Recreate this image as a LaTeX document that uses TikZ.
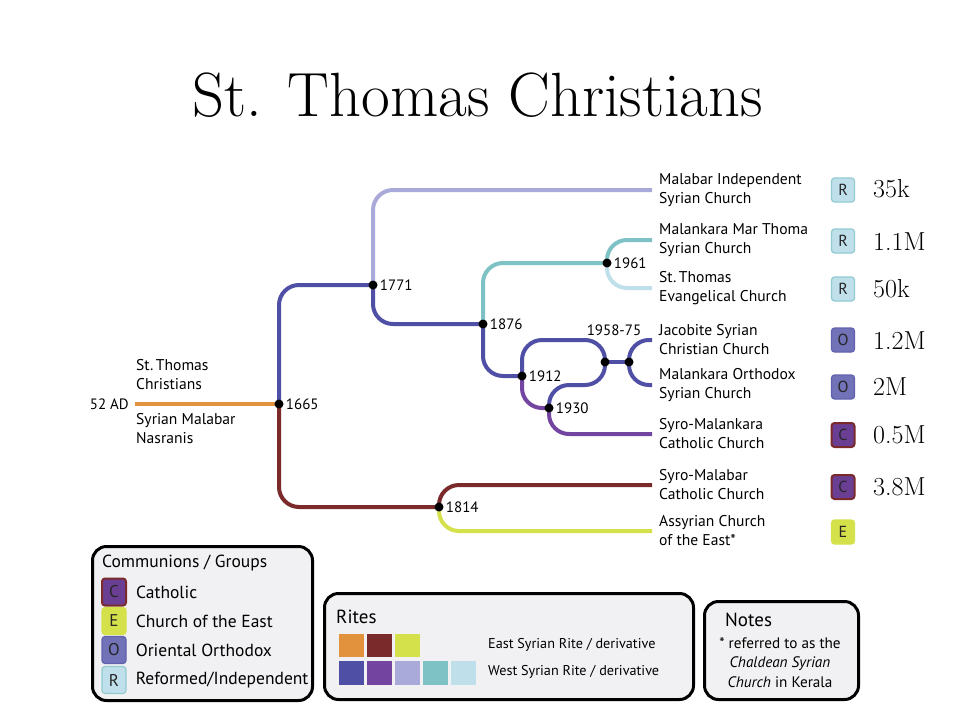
\documentclass[tikz,border=0pt]{standalone}
\usepackage{fontspec}
\setsansfont{PT Sans}
\usetikzlibrary{positioning,backgrounds}

\definecolor{riteorange}{HTML}{E2913D}
\definecolor{ritebrown}{HTML}{7A2A2B}
\definecolor{riteyellow}{HTML}{D5E14B}
\definecolor{riteblue}{HTML}{4F4FA6}
\definecolor{ritepurple}{HTML}{7345A0}
\definecolor{ritelavender}{HTML}{A9AAD9}
\definecolor{riteteal}{HTML}{7EC2C5}
\definecolor{ritesky}{HTML}{BFDFEB}
\definecolor{boxgray}{HTML}{F1F1F3}

\begin{document}
\begin{tikzpicture}[
    x=1pt, y=-1pt,
    font=\sffamily,
    branch/.style={
		line width=4pt,
		rounded corners=20pt
	},
	dot/.style={
		circle,
		fill=black,
		inner sep=0pt,
		minimum size=9pt
	},
	datelbl/.style={
		inner sep=2pt,
		font=\sffamily\fontsize{15}{17}\selectfont
	},
	church/.style={
		anchor=west,
		align=left,
		inner sep=0pt,
		font=\sffamily\fontsize{15.6}{19}\selectfont
	},
	badge/.style={
		rectangle,
		rounded corners=3pt,
		minimum width=23pt,
		minimum height=24pt,
		inner sep=0pt,
		line width=1.2pt,
		text=black!85,
		font=\sffamily\fontsize{16}{18}\selectfont
	},
	rbadge/.style={badge, fill=ritesky, draw=riteteal!70!ritesky},
	obadge/.style={badge, fill=riteblue!80!white, draw=riteblue!90!white},
	cbadge/.style={badge, fill=ritepurple!92!black, draw=ritebrown, line width=2pt},
	ebadge/.style={badge, fill=riteyellow, draw=riteyellow},
	lbadge/.style={minimum width=24pt, minimum height=27pt, font=\sffamily\fontsize{17}{19}\selectfont},
	count/.style={
		inner sep=0pt,
		font=\rmfamily\fontsize{26}{28}\selectfont
	},
	legendbox/.style={
		rectangle,
		rounded corners=14pt,
		draw=black,
		line width=3pt,
		fill=boxgray,
		anchor=north west
	},
	legendhead/.style={
		anchor=west,
		inner sep=0pt,
		font=\sffamily\fontsize{19}{21}\selectfont
	},
	legendtxt/.style={
		anchor=west,
		inner sep=0pt,
		font=\sffamily\fontsize{17.5}{19}\selectfont
	},
	ritetxt/.style={
		anchor=west,
		inner sep=0pt,
		font=\sffamily\fontsize{14.2}{16}\selectfont
	},
	swatch/.style={
		rectangle,
		inner sep=0pt,
		minimum width=25pt,
		minimum height=23.5pt
	}
  ]

 \node [font=\rmfamily\fontsize{62.5}{64}\selectfont, anchor=base] (title) at (478,116) {St. Thomas Christians};

% // split points
 \node [dot, label={[datelbl]right:1665}] (n1665) at (279,404) {};
 \node [dot, label={[datelbl]right:1771}] (n1771) at (373,285) {};
 \node [dot, label={[datelbl]right:1876}] (n1876) at (483,324) {};
 \node [dot, label={[datelbl]right:1961}] (n1961) at (607,263) {};
 \node [dot, label={[datelbl]right:1912}] (n1912) at (522,376) {};
 \node [dot, label={[datelbl]right:1930}] (n1930) at (549,408) {};
 \node [dot] (n1958a) at (605,362) {};
 \node [dot] (n1958b) at (629,362) {};
 \node [datelbl] (d1958) at (614,330) {1958-75};
 \node [dot, label={[datelbl]right:1814}] (n1814) at (439,507) {};

 \node [datelbl, anchor=east, inner xsep=6pt] (ad52) at (135,404) {52 AD};
 \node [church] (stc) at (136,374.5) {St.\,Thomas\\Christians};
 \node [church] (smn) at (136,428.5) {Syrian Malabar\\Nasranis};

% // branch ends
 \coordinate (e1) at (652,190);
 \coordinate (e2) at (652,240);
 \coordinate (e3) at (652,288);
 \coordinate (e4) at (652,340);
 \coordinate (e5) at (652,385);
 \coordinate (e6) at (652,434);
 \coordinate (e7) at (652,485);
 \coordinate (e8) at (652,531);

% // the tree
 \begin{scope}[on background layer]
 \fill [white] (0,0) rectangle (960,720);
 \draw [branch, riteorange]  (ad52.east) -- (n1665.center);
 \draw [branch, riteblue]  (n1665.center) |- (n1771.center);
 \draw [branch, ritebrown]  (n1665.center) |- (n1814.center);
 \draw [branch, ritelavender]  (n1771.center) |- (e1);
 \draw [branch, riteblue]  (n1771.center) |- (n1876.center);
 \draw [branch, riteteal]  (n1876.center) |- (n1961.center);
 \draw [branch, riteteal]  (n1961.center) |- (e2);
 \draw [branch, ritesky]  (n1961.center) |- (e3);
 \draw [branch, riteblue]  (n1876.center) |- (n1912.center);
 \draw [branch, riteblue]  (n1912.center) |- (n1958a.center |- e4) -- (n1958a.center);
 \draw [branch, riteblue]  (n1958a.center) -- (n1958b.center);
 \draw [branch, riteblue]  (n1958b.center) |- (e4);
 \draw [branch, riteblue]  (n1958b.center) |- (e5);
 \draw [branch, ritepurple]  (n1912.center) |- (n1930.center);
 \draw [branch, riteblue]  (n1930.center) |- (n1958a.center |- e5) -- (n1958a.center);
 \draw [branch, ritepurple]  (n1930.center) |- (e6);
 \draw [branch, ritebrown]  (n1814.center) |- (e7);
 \draw [branch, riteyellow]  (n1814.center) |- (e8);
 \end{scope}

% // churches
 \node [church, right=7pt of e1] (c1) {Malabar Independent\\Syrian Church};
 \node [church, right=7pt of e2] (c2) {Malankara Mar Thoma\\Syrian Church};
 \node [church, right=7pt of e3] (c3) {St.\,Thomas\\Evangelical Church};
 \node [church, right=7pt of e4] (c4) {Jacobite Syrian\\Christian Church};
 \node [church, right=7pt of e5] (c5) {Malankara Orthodox\\Syrian Church};
 \node [church, right=7pt of e6] (c6) {Syro-Malankara\\Catholic Church};
 \node [church, right=7pt of e7] (c7) {Syro-Malabar\\Catholic Church};
 \node [church, right=7pt of e8] (c8) {Assyrian Church\\of the East*};

% // badges and members
 \node [rbadge] (b1) at (843,190) {R};
 \node [rbadge] (b2) at (843,241) {R};
 \node [rbadge] (b3) at (843,289) {R};
 \node [obadge] (b4) at (843,340) {O};
 \node [obadge] (b5) at (843,387) {O};
 \node [cbadge] (b6) at (843,435) {C};
 \node [cbadge] (b7) at (843,487) {C};
 \node [ebadge] (b8) at (843,532) {E};
 \node [count, anchor=west] (m1) at (873,189) {35k};
 \node [count, anchor=west] (m2) at (873,242) {1.1M};
 \node [count, anchor=west] (m3) at (873,289) {50k};
 \node [count, anchor=west] (m4) at (873,341) {1.2M};
 \node [count, anchor=west] (m5) at (873,387) {2M};
 \node [count, anchor=west] (m6) at (873,435) {0.5M};
 \node [count, anchor=west] (m7) at (873,487) {3.8M};

% // Communions legend
 \node [legendbox, minimum width=220, minimum height=154] (groups) at (91,545) {};
 \node [legendtxt] (grouphead) at (102,563) {Communions / Groups};
 \node [cbadge, lbadge] (lc) at (114,592) {C};
 \node [ebadge, lbadge] (le) at (114,621) {E};
 \node [obadge, lbadge] (lo) at (114,650) {O};
 \node [rbadge, lbadge] (lr) at (114,680) {R};
 \node [legendtxt, right=9pt of lc] (lct) {Catholic};
 \node [legendtxt, right=9pt of le] (let) {Church of the East};
 \node [legendtxt, right=9pt of lo] (lot) {Oriental Orthodox};
 \node [legendtxt, right=9pt of lr] (lrt) {Reformed/Independent};

% // Rites legend
 \node [legendbox, minimum width=369, minimum height=106] (rites) at (323,592) {};
 \node [legendhead] (ritehead) at (336,617) {Rites};
 \node [swatch, fill=riteorange] (s1) at (351.5,645.5) {};
 \node [swatch, fill=ritebrown, right=2.5pt of s1] (s2) {};
 \node [swatch, fill=riteyellow, right=2.5pt of s2] (s3) {};
 \node [swatch, fill=riteblue, below=3.5pt of s1] (s4) {};
 \node [swatch, fill=ritepurple, right=2.5pt of s4] (s5) {};
 \node [swatch, fill=ritelavender, right=2.5pt of s5] (s6) {};
 \node [swatch, fill=riteteal, right=2.5pt of s6] (s7) {};
 \node [swatch, fill=ritesky, right=2.5pt of s7] (s8) {};
 \node [ritetxt] (east) at (488,645) {East Syrian Rite / derivative};
 \node [ritetxt] (west) at (488,672) {West Syrian Rite / derivative};

% // Notes
 \node [legendbox, minimum width=154, minimum height=98] (notes) at (703,600) {};
 \node [legendhead] (notehead) at (725,620) {Notes};
 \node [align=center, inner sep=0pt, font=\sffamily\fontsize{15.2}{19.5}\selectfont] (notebody) at (780,662.5)
 {* referred to as the\\\textit{Chaldean Syrian}\\\textit{Church} in Kerala};

 \useasboundingbox (0,0) rectangle (960,720);
\end{tikzpicture}
\end{document}
